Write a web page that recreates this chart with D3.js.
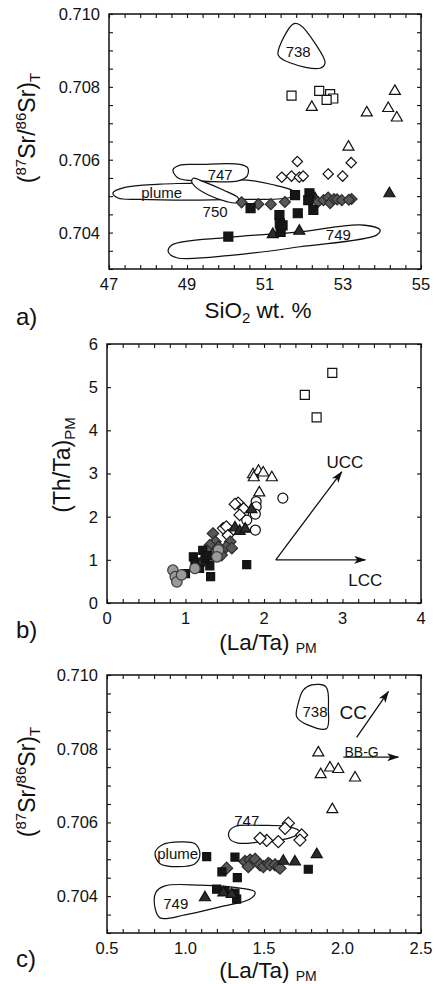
<!DOCTYPE html>
<html><head><meta charset="utf-8">
<script src="https://cdn.jsdelivr.net/npm/d3@7"></script>
<style>body{margin:0;background:#fff}svg{display:block}text{font-family:"Liberation Sans",Arial,Helvetica,sans-serif;fill:#111}</style>
</head><body><svg id="chart" width="436" height="984"></svg>
<script>
// ---------- Panel a: SiO2 vs 87Sr/86Sr ----------
const aOpenSquare   = [[51.68,0.70776],[52.39,0.70789],[52.67,0.70780],[52.75,0.70768],[52.58,0.70764]];
const aOpenTriangle = [[52.20,0.70747],[53.61,0.70732],[54.33,0.70791],[54.16,0.70744],[54.38,0.70718],[53.14,0.70638]];
const aOpenDiamond  = [[51.83,0.70595],[51.43,0.70552],[51.68,0.70555],[51.88,0.70552],[51.98,0.70555],[52.62,0.70561],[52.99,0.70555],[53.21,0.70592]];
const aGrayDiamond  = [[50.40,0.70483],[50.83,0.70478],[51.15,0.70478],[51.51,0.70484],[52.36,0.70484],[52.50,0.70489],[52.62,0.70496],[52.67,0.70481],[52.77,0.70492],[52.85,0.70491],[52.97,0.70489],[53.22,0.70492],[53.15,0.70490]];
const aBlackSquare  = [[50.06,0.70389],[50.63,0.70467],[51.37,0.70448],[51.38,0.70425],[51.40,0.70402],[51.45,0.70420],[51.84,0.70453],[51.77,0.70503],[52.14,0.70508],[52.24,0.70462],[52.11,0.70489]];
const aBlackTriangle= [[51.20,0.70398],[51.88,0.70407],[54.19,0.70510],[52.28,0.70497]];
const aEnv738  = [[51.73,0.70973],[51.37,0.70910],[51.34,0.70887],[51.64,0.70866],[52.41,0.70851],[52.54,0.70865],[52.28,0.70920],[51.90,0.70970]];
const aEnvPlume= [[47.10,0.70509],[47.41,0.70524],[48.31,0.70533],[49.13,0.70536],[49.85,0.70542],[50.54,0.70544],[51.18,0.70532],[51.72,0.70515],[51.79,0.70505],[51.59,0.70495],[50.36,0.70491],[49.08,0.70489],[47.79,0.70491],[47.23,0.70495]];
const aEnv747  = [[48.64,0.70572],[48.82,0.70585],[49.33,0.70587],[50.36,0.70587],[50.56,0.70577],[50.54,0.70555],[50.31,0.70542],[49.33,0.70542],[48.77,0.70550]];
const aEnv750  = [[49.16,0.70549],[49.42,0.70540],[49.93,0.70517],[50.32,0.70494],[50.27,0.70482],[50.02,0.70485],[49.55,0.70503],[49.21,0.70526],[49.12,0.70540]];
const aEnv749  = [[48.61,0.70366],[50.06,0.70387],[51.90,0.70402],[53.44,0.70421],[53.95,0.70407],[53.86,0.70393],[51.90,0.70361],[50.19,0.70338],[48.74,0.70331],[48.52,0.70347]];
const aEnvLabels = [["738",51.85,0.70896],["747",49.85,0.70558],["plume",48.35,0.70509],["750",49.72,0.70457],["749",52.88,0.70393]];
const aXLabels = [47,49,51,53,55];
const aYLabels = [0.704,0.706,0.708,0.710];

// ---------- Panel b: (La/Ta)PM vs (Th/Ta)PM ----------
const bOpenSquare   = [[2.52,4.82],[2.67,4.30],[2.87,5.33]];
const bOpenTriangle = [[1.86,3.00],[1.93,3.08],[1.99,3.04],[2.10,2.93],[1.94,2.58],[1.87,2.93]];
const bOpenCircle   = [[2.24,2.43],[1.90,2.35],[1.90,2.23],[1.89,2.06],[1.74,2.08],[1.89,1.69],[1.78,1.92]];
const bOpenDiamond  = [[1.67,2.32],[1.63,2.29],[1.74,2.19],[1.69,2.04],[1.48,1.73],[1.52,1.77],[1.54,1.57]];
const bBlackTriangle= [[1.84,2.19],[1.63,1.77],[1.69,1.69],[1.76,1.74]];
const bGrayDiamond  = [[1.35,1.61],[1.38,1.42],[1.31,1.34],[1.27,1.22],[1.25,1.03],[1.38,1.19],[1.57,1.42],[1.52,1.30],[1.59,1.27],[1.46,1.11],[1.18,0.88],[1.29,1.00],[1.42,1.30]];
const bBlackSquare  = [[1.10,1.07],[1.22,1.22],[1.25,1.02],[1.31,0.86],[1.18,0.80],[1.00,0.68],[1.32,0.61],[1.78,0.89],[1.12,0.95],[1.28,1.10]];
const bGrayCircle   = [[0.84,0.76],[0.87,0.61],[0.89,0.49],[0.95,0.65],[1.12,0.80],[1.42,1.23],[1.40,1.07]];
const bArrowOrigin = [2.15,1.0];
const bArrowUCC = [2.99,3.04];
const bArrowLCC = [3.29,1.0];
const bArrowLabels = [["UCC",3.03,3.27],["LCC",3.29,0.53]];
const bXLabels = [0,1,2,3,4];
const bYLabels = [0,1,2,3,4,5,6];

// ---------- Panel c: (La/Ta)PM vs 87Sr/86Sr ----------
const cOpenTriangle = [[1.846,0.70792],[1.861,0.70733],[1.920,0.70751],[1.973,0.70747],[2.080,0.70724],[1.935,0.70638]];
const cOpenDiamond  = [[1.655,0.70598],[1.634,0.70584],[1.740,0.70566],[1.729,0.70552],[1.591,0.70548],[1.517,0.70551],[1.475,0.70557]];
const cGrayDiamond  = [[1.262,0.70476],[1.379,0.70494],[1.411,0.70498],[1.443,0.70500],[1.475,0.70485],[1.496,0.70480],[1.528,0.70489],[1.538,0.70485],[1.570,0.70485],[1.591,0.70480],[1.602,0.70476],[1.400,0.70480]];
const cBlackSquare  = [[1.135,0.70507],[1.315,0.70506],[1.232,0.70466],[1.330,0.70450],[1.198,0.70419],[1.252,0.70413],[1.315,0.70408],[1.326,0.70392],[1.782,0.70473]];
const cBlackTriangle= [[1.124,0.70399],[1.241,0.70412],[1.294,0.70408],[1.623,0.70498],[1.697,0.70496],[1.836,0.70516]];
const cEnv738  = [[1.804,0.70973],[1.895,0.70968],[1.910,0.70905],[1.899,0.70855],[1.782,0.70864],[1.708,0.70887],[1.718,0.70923],[1.750,0.70959]];
const cEnv747  = [[1.277,0.70574],[1.315,0.70589],[1.475,0.70592],[1.666,0.70588],[1.729,0.70574],[1.666,0.70558],[1.475,0.70547],[1.334,0.70544],[1.283,0.70555]];
const cEnvPlume= [[0.806,0.70517],[0.850,0.70539],[0.965,0.70547],[1.061,0.70542],[1.092,0.70515],[1.061,0.70488],[0.952,0.70480],[0.838,0.70488]];
const cEnv749  = [[0.812,0.70411],[0.869,0.70428],[1.092,0.70430],[1.347,0.70422],[1.443,0.70411],[1.411,0.70392],[1.220,0.70371],[0.997,0.70349],[0.838,0.70341],[0.806,0.70368]];
const cEnvLabels = [["738",1.825,0.70900],["747",1.390,0.70605],["plume",0.950,0.70516],["749",0.938,0.70379]];
const cArrowCC  = [[2.090,0.70831],[2.292,0.70955]];
const cArrowBBG = [[2.005,0.70777],[2.355,0.70777]];
const cArrowLabels = [["CC",2.069,0.70900],["BB-G",2.122,0.70792]];
const cXLabels = [0.5,1.0,1.5,2.0,2.5];
const cYLabels = [0.704,0.706,0.708,0.710];

// ---------- drawing ----------
const svg = d3.select("#chart");
const defs = svg.append("defs");
defs.append("marker").attr("id","ah").attr("viewBox","0 0 12 8").attr("refX",11).attr("refY",4)
  .attr("markerWidth",12).attr("markerHeight",8).attr("markerUnits","userSpaceOnUse").attr("orient","auto")
  .append("path").attr("d","M0,0 L12,4 L0,8 L3,4 Z").attr("fill","#111");

function shapePath(type, s){
  const h = s/2;
  if(type==="square") return `M${-h},${-h}h${s}v${s}h${-s}Z`;
  if(type==="diamond") return `M0,${-h*1.15}L${h*1.15},0L0,${h*1.15}L${-h*1.15},0Z`;
  if(type==="triangle") return `M0,${-h*1.05}L${h*1.1},${h*0.85}L${-h*1.1},${h*0.85}Z`;
  if(type==="circle") return d3.arc()({innerRadius:0,outerRadius:h,startAngle:0,endAngle:2*Math.PI});
}
const styles = {
  open:  {fill:"#fff", stroke:"#111"},
  gray:  {fill:"#585858", stroke:"#2a2a2a"},
  black: {fill:"#161616", stroke:"#111"},
  dark:  {fill:"#2c2c2c", stroke:"#111"},
  lgray: {fill:"#9a9a9a", stroke:"#3a3a3a"}
};

function panel(cfg){
  const g = svg.append("g");
  const x = d3.scaleLinear().domain(cfg.xd).range([cfg.l, cfg.r]);
  const y = d3.scaleLinear().domain(cfg.yd).range([cfg.b, cfg.t]);
  const ctx = {g,x,y};
  const line = d3.line().x(d=>x(d[0])).y(d=>y(d[1])).curve(d3.curveCatmullRomClosed.alpha(0.5));
  (cfg.envs||[]).forEach(e=>{
    g.append("path").attr("d",line(e)).attr("fill","#fff").attr("stroke","#111").attr("stroke-width",1.2);
  });
  (cfg.envLabels||[]).forEach(t=>{
    g.append("text").attr("x",x(t[1])).attr("y",y(t[2])).attr("dy","0.35em").attr("text-anchor","middle")
      .attr("font-size",15).text(t[0]);
  });
  (cfg.series||[]).forEach(sr=>{
    const st = styles[sr.style];
    g.append("g").selectAll("path").data(sr.data).join("path")
      .attr("transform",d=>`translate(${x(d[0])},${y(d[1])})`)
      .attr("d",shapePath(sr.shape, sr.size))
      .attr("fill",st.fill).attr("stroke",st.stroke).attr("stroke-width",1.2);
  });
  if(cfg.extra) cfg.extra(ctx);
  // axes with inward ticks on four sides
  const xt = d3.range(Math.round((cfg.xd[1]-cfg.xd[0])/cfg.xs)+1).map(i=>+(cfg.xd[0]+i*cfg.xs).toFixed(6));
  const yt = d3.range(Math.round((cfg.yd[1]-cfg.yd[0])/cfg.ys)+1).map(i=>+(cfg.yd[0]+i*cfg.ys).toFixed(6));
  const noLab = ()=>"";
  const ax = (gen, tr, vals)=>{
    const a = g.append("g").attr("transform",tr).call(gen.tickValues(vals).tickSizeInner(-4).tickSizeOuter(0).tickFormat(noLab));
    a.select(".domain").remove();
    a.selectAll("line").attr("stroke","#111").attr("stroke-width",1.1);
  };
  ax(d3.axisBottom(x), `translate(0,${cfg.b})`, xt);
  ax(d3.axisTop(x), `translate(0,${cfg.t})`, xt);
  ax(d3.axisLeft(y), `translate(${cfg.l},0)`, yt);
  ax(d3.axisRight(y), `translate(${cfg.r},0)`, yt);
  g.append("rect").attr("x",cfg.l).attr("y",cfg.t).attr("width",cfg.r-cfg.l).attr("height",cfg.b-cfg.t)
    .attr("fill","none").attr("stroke","#111").attr("stroke-width",1.5);
  // tick labels
  g.append("g").selectAll("text").data(cfg.xl).join("text")
    .attr("x",d=>x(d)).attr("y",cfg.b+21).attr("text-anchor","middle").attr("font-size",16.5).text(cfg.xf);
  g.append("g").selectAll("text").data(cfg.yl).join("text")
    .attr("x",cfg.l-9).attr("y",d=>y(d)).attr("dy","0.36em").attr("text-anchor","end").attr("font-size",16.5).text(cfg.yf);
  // titles
  const xt2 = g.append("text").attr("x",cfg.xtx).attr("y",cfg.xty).attr("text-anchor","middle").attr("font-size",22.5);
  cfg.xTitle(xt2);
  const yt2 = g.append("text").attr("transform",`translate(${cfg.ytx},${cfg.yty}) rotate(-90)`).attr("text-anchor","middle").attr("font-size",23);
  cfg.yTitle(yt2);
  g.append("text").attr("x",16).attr("y",cfg.lby).attr("font-size",24).text(cfg.label);
}

function srTitle(t){
  t.append("tspan").text("(");
  t.append("tspan").attr("font-size",15).attr("dy",-9).text("87");
  t.append("tspan").attr("dy",9).text("Sr/");
  t.append("tspan").attr("font-size",15).attr("dy",-9).text("86");
  t.append("tspan").attr("dy",9).text("Sr)");
  t.append("tspan").attr("font-size",15).attr("dy",5).text("T");
}
function laTitle(t){
  t.append("tspan").text("(La/Ta) ");
  t.append("tspan").attr("font-size",14).attr("dy",2.5).text("PM");
}

panel({
  xd:[47,55], yd:[0.703,0.710], l:109, r:421, t:14, b:269, xs:0.4, ys:0.0005,
  xl:aXLabels, yl:aYLabels, xf:d=>d3.format("d")(d), yf:d=>d3.format(".3f")(d),
  envs:[aEnvPlume, aEnv749, aEnv747, aEnv750, aEnv738], envLabels:aEnvLabels,
  series:[
    {data:aOpenSquare, shape:"square", style:"open", size:9},
    {data:aOpenTriangle, shape:"triangle", style:"open", size:10},
    {data:aOpenDiamond, shape:"diamond", style:"open", size:9},
    {data:aBlackTriangle, shape:"triangle", style:"dark", size:10},
    {data:aGrayDiamond, shape:"diamond", style:"gray", size:9.5},
    {data:aBlackSquare, shape:"square", style:"black", size:9}
  ],
  xtx:258, xty:318, xTitle:t=>{t.append("tspan").text("SiO");t.append("tspan").attr("font-size",15).attr("dy",5).text("2");t.append("tspan").attr("dy",-5).text(" wt. %");},
  ytx:35, yty:128, yTitle:srTitle, label:"a)", lby:325
});

panel({
  xd:[0,4], yd:[0,6], l:107, r:421, t:344, b:603, xs:0.2, ys:1,
  xl:bXLabels, yl:bYLabels, xf:d=>d, yf:d=>d,
  series:[
    {data:bOpenSquare, shape:"square", style:"open", size:9},
    {data:bOpenTriangle, shape:"triangle", style:"open", size:10},
    {data:bOpenCircle, shape:"circle", style:"open", size:10},
    {data:bOpenDiamond, shape:"diamond", style:"open", size:10},
    {data:bBlackTriangle, shape:"triangle", style:"dark", size:10},
    {data:bGrayDiamond, shape:"diamond", style:"gray", size:10},
    {data:bBlackSquare, shape:"square", style:"black", size:8},
    {data:bGrayCircle, shape:"circle", style:"lgray", size:10.5}
  ],
  extra:({g,x,y})=>{
    [bArrowUCC,bArrowLCC].forEach(p=>{
      g.append("line").attr("x1",x(bArrowOrigin[0])).attr("y1",y(bArrowOrigin[1])).attr("x2",x(p[0])).attr("y2",y(p[1]))
        .attr("stroke","#111").attr("stroke-width",1.3).attr("marker-end","url(#ah)");
    });
    bArrowLabels.forEach(t=>g.append("text").attr("x",x(t[1])).attr("y",y(t[2])).attr("dy","0.35em").attr("text-anchor","middle").attr("font-size",17).text(t[0]));
  },
  xtx:268, xty:650, xTitle:laTitle,
  ytx:70, yty:465, yTitle:t=>{t.append("tspan").text("(Th/Ta)");t.append("tspan").attr("font-size",15).attr("dy",5).text("PM");},
  label:"b)", lby:638
});

panel({
  xd:[0.5,2.5], yd:[0.703,0.710], l:107, r:421, t:675, b:933, xs:0.1, ys:0.0005,
  xl:cXLabels, yl:cYLabels, xf:d=>d3.format(".1f")(d), yf:d=>d3.format(".3f")(d),
  envs:[cEnv749, cEnvPlume, cEnv747, cEnv738], envLabels:cEnvLabels,
  series:[
    {data:cOpenTriangle, shape:"triangle", style:"open", size:10},
    {data:cOpenDiamond, shape:"diamond", style:"open", size:10.5},
    {data:cGrayDiamond, shape:"diamond", style:"gray", size:10.5},
    {data:cBlackSquare, shape:"square", style:"black", size:8},
    {data:cBlackTriangle, shape:"triangle", style:"dark", size:10}
  ],
  extra:({g,x,y})=>{
    [cArrowCC,cArrowBBG].forEach(p=>{
      g.append("line").attr("x1",x(p[0][0])).attr("y1",y(p[0][1])).attr("x2",x(p[1][0])).attr("y2",y(p[1][1]))
        .attr("stroke","#111").attr("stroke-width",1.3).attr("marker-end","url(#ah)");
    });
    g.append("text").attr("x",x(cArrowLabels[0][1])).attr("y",y(cArrowLabels[0][2])).attr("dy","0.35em").attr("text-anchor","middle").attr("font-size",19).text(cArrowLabels[0][0]);
    g.append("text").attr("x",x(cArrowLabels[1][1])).attr("y",y(cArrowLabels[1][2])).attr("dy","0.35em").attr("text-anchor","middle").attr("font-size",14).text(cArrowLabels[1][0]);
  },
  xtx:268, xty:978, xTitle:laTitle,
  ytx:35, yty:782, yTitle:srTitle, label:"c)", lby:967
});
</script></body></html>
